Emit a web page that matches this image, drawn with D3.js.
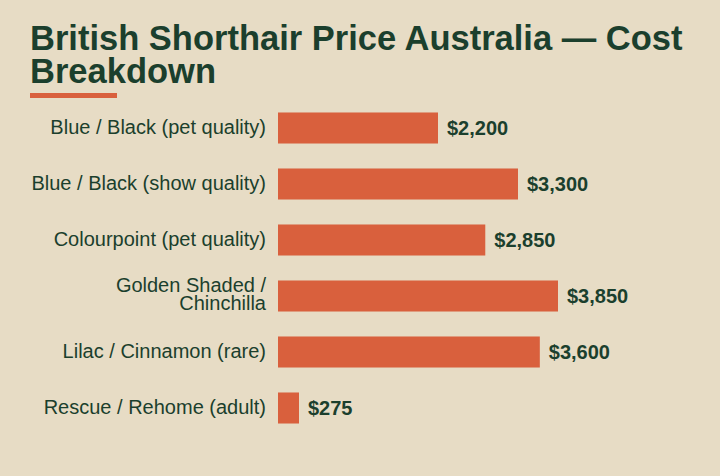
<!DOCTYPE html>
<html>
<head>
<meta charset="utf-8">
<script src="https://cdn.jsdelivr.net/npm/d3@7"></script>
<style>
  body { margin: 0; background: #e7dcc5; }
  svg { display: block; font-family: "Liberation Sans", Arial, sans-serif; }
</style>
</head>
<body>
<div id="chart"></div>
<script>
// chart data
const categories = [
    "Blue / Black (pet quality)",
    "Blue / Black (show quality)",
    "Colourpoint (pet quality)",
    "Golden Shaded / Chinchilla",
    "Lilac / Cinnamon (rare)",
    "Rescue / Rehome (adult)"
];
const prices = [2200, 3300, 2850, 3850, 3600, 275];
const titleLines = ["British Shorthair Price Australia \u2014 Cost", "Breakdown"];

const width = 720;
const height = 476;
const dark = "#1b3f2d";
const orange = "#d9603d";

const svg = d3.select("#chart")
    .append("svg")
    .attr("width", width)
    .attr("height", height);

svg.append("rect")
    .attr("width", width)
    .attr("height", height)
    .attr("fill", "#e7dcc5");

// title
svg.append("text")
    .attr("x", 30)
    .attr("y", 50)
    .attr("fill", dark)
    .attr("font-size", 34.5)
    .attr("font-weight", "bold")
    .selectAll("tspan")
    .data(titleLines)
    .enter().append("tspan")
    .attr("x", 30)
    .attr("dy", (d, i) => i === 0 ? 0 : 33)
    .text(d => d);

svg.append("rect")
    .attr("x", 30)
    .attr("y", 93)
    .attr("width", 87)
    .attr("height", 5)
    .attr("fill", orange);

// scales
const x = d3.scaleLinear()
    .domain([0, d3.max(prices)])
    .range([0, 280]);

const y = d3.scaleBand()
    .domain(categories)
    .range([100, 436])
    .paddingInner(0.446)
    .paddingOuter(0.223);

const left = 278;

const g = svg.append("g");

g.selectAll(".bar")
    .data(prices)
    .enter().append("rect")
    .attr("class", "bar")
    .attr("x", left)
    .attr("y", (d, i) => y(categories[i]))
    .attr("width", d => Math.max(x(d), 21))
    .attr("height", y.bandwidth())
    .attr("fill", orange);

g.selectAll(".value")
    .data(prices)
    .enter().append("text")
    .attr("class", "value")
    .attr("x", d => left + Math.max(x(d), 21) + 9)
    .attr("y", (d, i) => y(categories[i]) + y.bandwidth() / 2)
    .attr("dy", "0.33em")
    .attr("fill", dark)
    .attr("font-size", 20)
    .attr("font-weight", "bold")
    .text(d => "$" + d3.format(",")(d));

// category labels, wrapped when too long
const labels = g.selectAll(".label")
    .data(categories)
    .enter().append("text")
    .attr("class", "label")
    .attr("text-anchor", "end")
    .attr("fill", dark)
    .attr("font-size", 20)
    .attr("transform", d => "translate(266," + (y(d) + y.bandwidth() / 2) + ")");

labels.each(function (d) {
    const el = d3.select(this);
    const lines = d === "Golden Shaded / Chinchilla" ? ["Golden Shaded /", "Chinchilla"] : [d];
    const lh = 17.5;
    lines.forEach((line, i) => {
        el.append("tspan")
            .attr("x", 0)
            .attr("y", (i - (lines.length - 1) / 2) * lh)
            .attr("dy", lines.length > 1 ? "0.25em" : "0.28em")
            .text(line);
    });
});
</script>
</body>
</html>
